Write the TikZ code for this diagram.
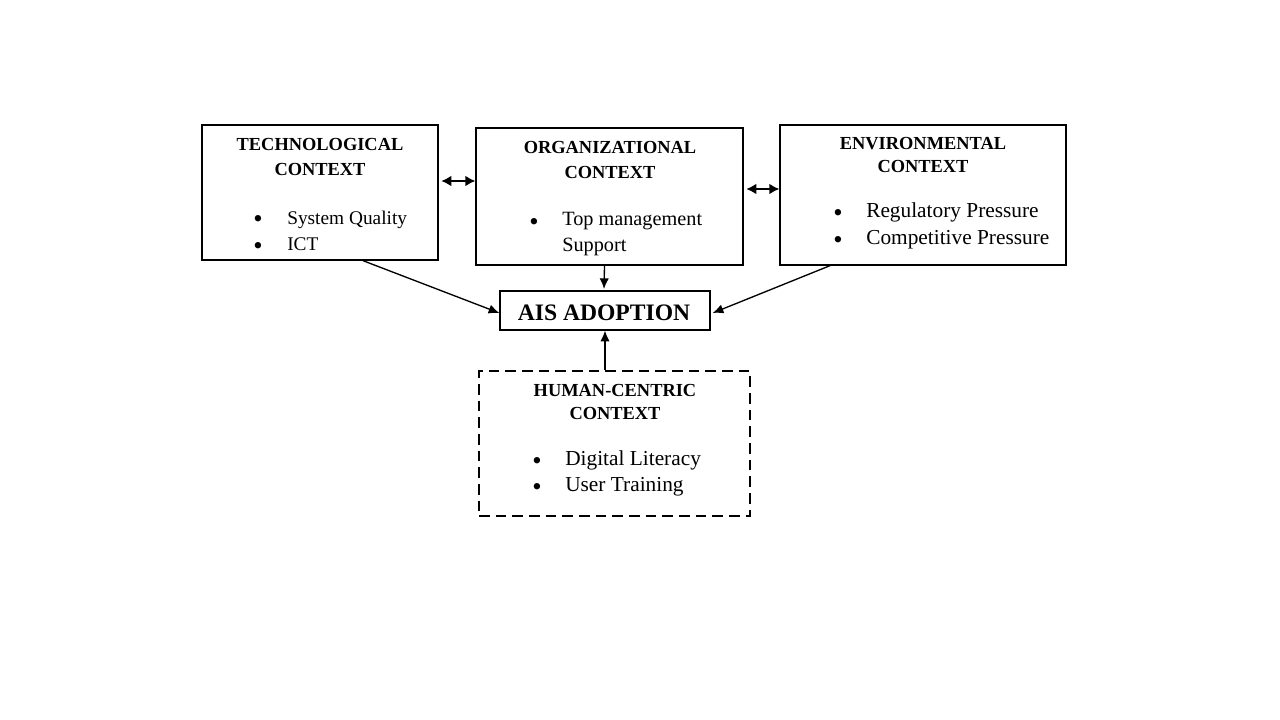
\documentclass[tikz,border=0pt]{standalone}
\usepackage{fontspec}
\setmainfont{Liberation Serif}
\usetikzlibrary{arrows.meta}
\begin{document}
\begin{tikzpicture}[x=0.75pt,y=-0.75pt,
  boxst/.style={draw=black,line width=1pt,rectangle,inner sep=0pt},
  dbox/.style={draw=black,line width=1.7pt,rectangle,inner sep=0pt,dash pattern=on 8pt off 4.5pt},
  ttl/.style={inner sep=0pt,anchor=base,font=\fontsize{13.8pt}{16pt}\bfseries\selectfont},
  itm/.style={inner sep=0pt,anchor=base west},
  bul/.style={inner sep=0pt,anchor=base,font=\fontsize{20pt}{20pt}\selectfont},
  arr/.style={line width=1pt,-{Latex[length=8pt,width=7pt]}},
  darr/.style={line width=1.1pt,{Latex[length=7.5pt,width=8pt]}-{Latex[length=7.5pt,width=8pt]}}]
\useasboundingbox[fill=white] (0,0) rectangle (1280,720);

% boxes
\node[boxst,minimum width=177pt,minimum height=101.25pt] (tech) at (320,192.5) {};
\node[boxst,minimum width=200.25pt,minimum height=102.75pt] (org) at (609.5,196.5) {};
\node[boxst,minimum width=214.5pt,minimum height=105pt] (env) at (923,195) {};
\node[boxst,minimum width=157.5pt,minimum height=29.25pt] (ais) at (605,310.5) {};
\node[dbox,minimum width=203.25pt,minimum height=108.75pt] (hum) at (614.5,443.5) {};

% technological
\node[ttl] (t1) at (320,151) {TECHNOLOGICAL};
\node[ttl] (t2) at (320,176) {CONTEXT};
\node[bul] (tb1) at (258,228) {•};
\node[itm,font=\fontsize{14.5pt}{17pt}\selectfont] (ti1) at (287,224) {System Quality};
\node[bul] (tb2) at (258,254) {•};
\node[itm,font=\fontsize{14.5pt}{17pt}\selectfont] (ti2) at (287,250) {ICT};

% organizational
\node[ttl] (o1) at (610,154) {ORGANIZATIONAL};
\node[ttl] (o2) at (610,179) {CONTEXT};
\node[bul] (ob1) at (534,230) {•};
\node[itm,font=\fontsize{15.2pt}{18pt}\selectfont] (oi1) at (562,226) {Top management};
\node[itm,font=\fontsize{15.2pt}{18pt}\selectfont] (oi2) at (562,252) {Support};

% environmental
\node[ttl] (e1) at (923,150) {ENVIRONMENTAL};
\node[ttl] (e2) at (923,173) {CONTEXT};
\node[bul] (eb1) at (838,222) {•};
\node[itm,font=\fontsize{16pt}{19pt}\selectfont] (ei1) at (866,218) {Regulatory Pressure};
\node[bul] (eb2) at (838,248) {•};
\node[itm,font=\fontsize{16pt}{19pt}\selectfont] (ei2) at (866,244) {Competitive Pressure};

% AIS
\node[inner sep=0pt,anchor=base,font=\fontsize{17.7pt}{20pt}\bfseries\selectfont] (a1) at (604,320) {AIS ADOPTION};

% human-centric
\node[ttl] (h1) at (615,396) {HUMAN-CENTRIC};
\node[ttl] (h2) at (615,419) {CONTEXT};
\node[bul] (hb1) at (537,469) {•};
\node[itm,font=\fontsize{16pt}{19pt}\selectfont] (hi1) at (565,465) {Digital Literacy};
\node[bul] (hb2) at (537,495) {•};
\node[itm,font=\fontsize{16pt}{19pt}\selectfont] (hi2) at (565,491) {User Training};

% connectors
\draw[darr] ([xshift=2pt,yshift=-0.75pt*(181-192.5)]tech.east) -- ([yshift=-0.75pt*(181-196.5)]org.west);
\draw[darr] ([xshift=2pt,yshift=-0.75pt*(189-196.5)]org.east) -- ([yshift=-0.75pt*(189-195)]env.west);
\draw[arr] ([xshift=-3.75pt]org.south) -- ([xshift=-0.75pt,yshift=1pt]ais.north);
\draw[arr] ([xshift=0.75pt*(363-320)]tech.south) -- ([yshift=-0.75pt*(313-310.5)]ais.west);
\draw[arr] ([xshift=0.75pt*(830-923)]env.south) -- ([xshift=1.5pt,yshift=-0.75pt*(313-310.5)]ais.east);
\draw[arr] ([xshift=0.75pt*(605-614.5)]hum.north) -- ([xshift=0pt]ais.south);
\end{tikzpicture}
\end{document}
